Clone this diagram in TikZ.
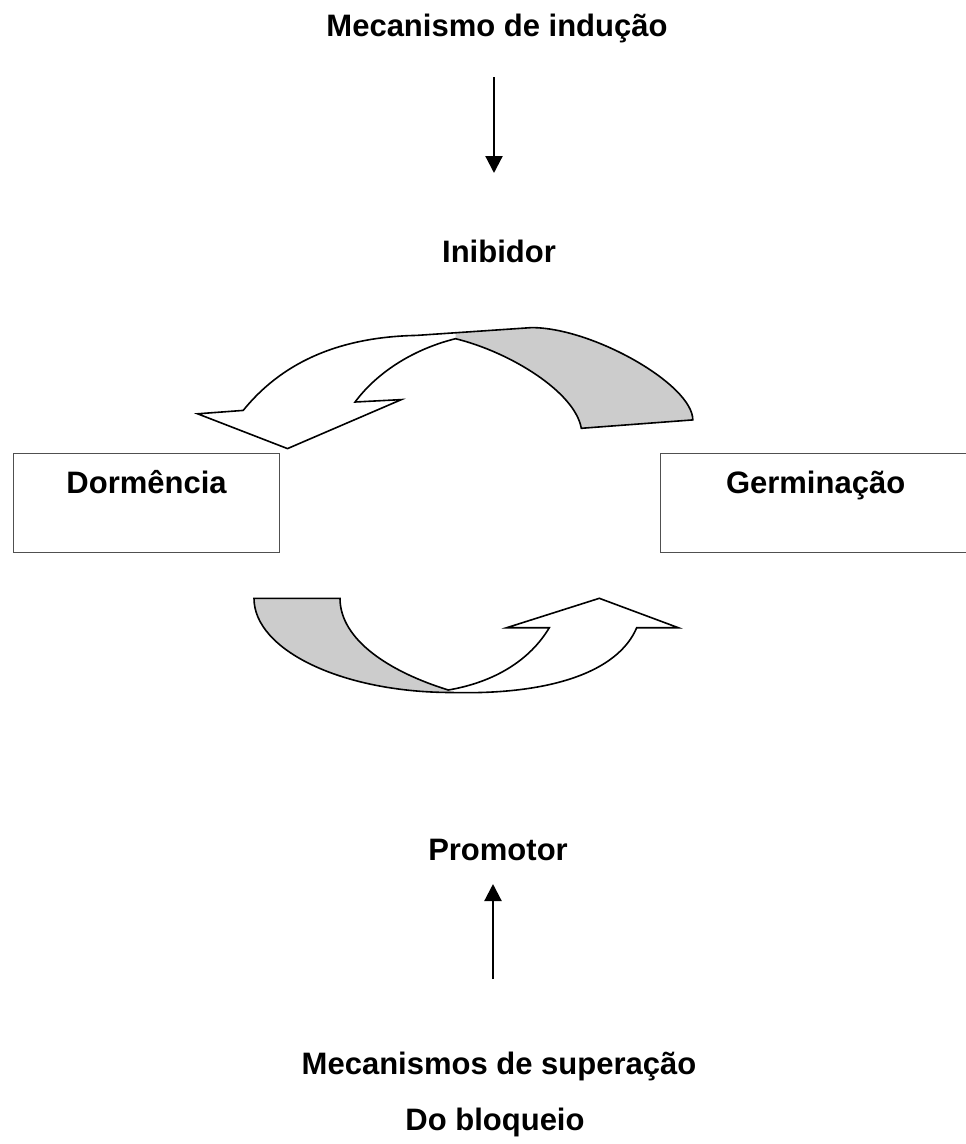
\documentclass[tikz,border=0pt]{standalone}
\usepackage{fontspec}
\setmainfont{Liberation Sans}
\usepackage{tikz}
\usetikzlibrary{arrows.meta, positioning}
\definecolor{boxgray}{RGB}{80,80,80}
\definecolor{bandgray}{RGB}{204,204,204}

\begin{document}
\begin{tikzpicture}[
  x=1pt, y=-1pt,
  every node/.style={font=\bfseries\fontsize{31}{37}\selectfont, inner sep=0pt},
  txt/.style={anchor=base},
  box/.style={rectangle, draw=boxgray, line width=1.2pt, anchor=north west,
              minimum height=99pt, text height=40pt, text depth=59pt},
  arrow/.style={-{Triangle[width=17pt,length=17pt]}, line width=2.2pt},
  band/.style={draw=black, line width=1.6pt, line join=miter}
]
\useasboundingbox (0,0) rectangle (966,1144);
% top row
\node[txt] (induc) at (497,36)  {Mecanismo de indução};
\node[txt] (inib)  at (499,262) {Inibidor};
\coordinate (inTop) at (494,77);
\coordinate (inEnd) at (494,173);
\draw[arrow] (inTop) -- (inEnd);
% the two states
\node[box, minimum width=266pt] (dorm) at (13,453)  {Dormência};
\node[box, minimum width=310pt] (germ) at (660,453) {Germinação};
% curved arrow above: germinacao -> dormencia
\fill[bandgray] (692.8,419.9) .. controls (692.8,384.8) and (592.9,327.6) .. (531.6,327.6)
  -- (455.5,332.8) -- (455.5,338.7)
  .. controls (510,352) and (575,392) .. (581.3,428.3) -- cycle;
\draw[band] (692.8,419.9) .. controls (692.8,384.8) and (592.9,327.6) .. (531.6,327.6)
  -- (416.6,335.4) .. controls (335,337) and (280,365) .. (243.2,410.4)
  -- (197.6,413.8) -- (287.5,448.6) -- (401.4,399.6) -- (355.1,402)
  .. controls (375,375) and (410,350) .. (455.5,338.7)
  .. controls (510,352) and (575,392) .. (581.3,428.3) -- cycle;
% curved arrow below: dormencia -> germinacao
\fill[bandgray] (254,598.3) -- (340,598.3)
  .. controls (340,640) and (390,672) .. (448.3,690) -- (452,692.5)
  .. controls (342,692.5) and (254,650) .. (254,598.3) -- cycle;
\draw[band] (254,598.3) -- (340,598.3)
  .. controls (340,640) and (390,672) .. (448.3,690)
  .. controls (495,682) and (530,660) .. (549.3,627.7)
  -- (506.7,627.7) -- (599.3,598.3) -- (678.3,627.7) -- (636.7,627.7)
  .. controls (618,672) and (550,695) .. (452,692.5)
  .. controls (342,692.5) and (254,650) .. (254,598.3) -- cycle;
% bottom row
\node[txt] (prom) at (498,860) {Promotor};
\coordinate (prBot) at (493,979);
\coordinate (prTop) at (493,884);
\draw[arrow] (prBot) -- (prTop);
\node[txt] (super) at (499,1074) {Mecanismos de superação};
\node[txt] (bloq)  at (495,1130) {Do bloqueio};
\end{tikzpicture}
\end{document}
